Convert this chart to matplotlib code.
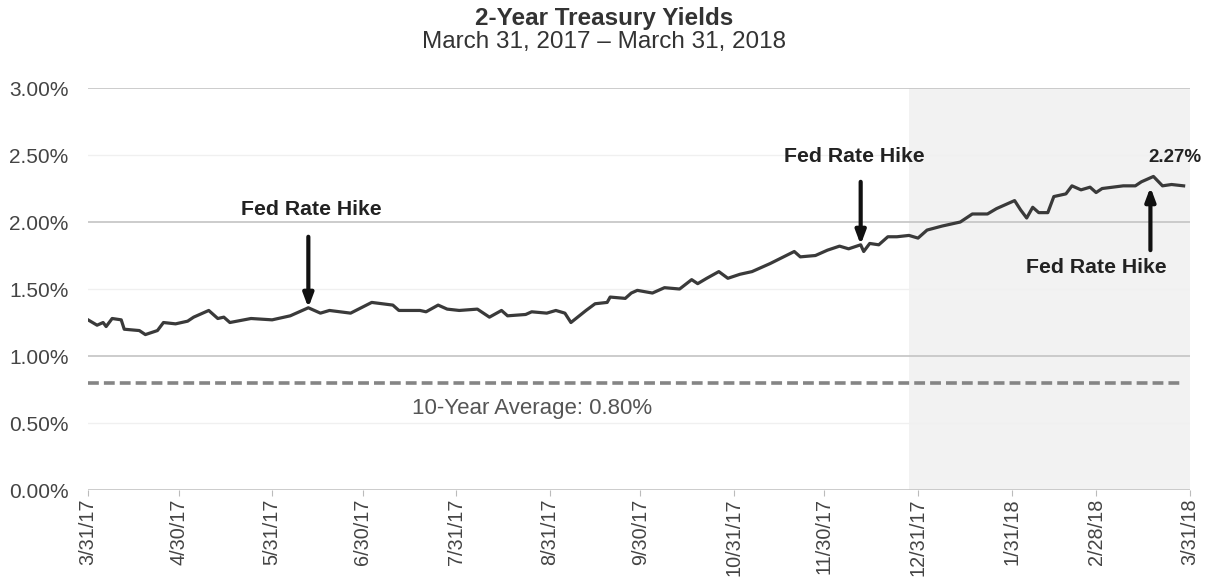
import matplotlib
matplotlib.use("Agg")
import matplotlib.pyplot as plt
import numpy as np
import pandas as pd

plt.rcParams['font.family'] = ['Liberation Sans', 'DejaVu Sans']

# 2-year Treasury yield, %
dates = [
    "2017-03-31", "2017-04-03", "2017-04-05", "2017-04-06", "2017-04-08", "2017-04-11",
    "2017-04-12", "2017-04-17", "2017-04-19", "2017-04-23", "2017-04-25", "2017-04-29",
    "2017-05-03", "2017-05-05", "2017-05-10", "2017-05-13", "2017-05-15", "2017-05-17",
    "2017-05-24", "2017-05-31", "2017-06-06", "2017-06-12", "2017-06-16", "2017-06-19",
    "2017-06-26", "2017-07-03", "2017-07-10", "2017-07-12", "2017-07-19", "2017-07-21",
    "2017-07-25", "2017-07-28", "2017-08-01", "2017-08-07", "2017-08-11", "2017-08-15",
    "2017-08-17", "2017-08-23", "2017-08-25", "2017-08-30", "2017-09-02", "2017-09-05",
    "2017-09-07", "2017-09-12", "2017-09-15", "2017-09-19", "2017-09-20", "2017-09-25",
    "2017-09-27", "2017-09-29", "2017-10-04", "2017-10-08", "2017-10-13", "2017-10-17",
    "2017-10-19", "2017-10-22", "2017-10-26", "2017-10-29", "2017-11-02", "2017-11-06",
    "2017-11-12", "2017-11-20", "2017-11-22", "2017-11-27", "2017-12-01", "2017-12-05",
    "2017-12-08", "2017-12-12", "2017-12-13", "2017-12-15", "2017-12-18", "2017-12-21",
    "2017-12-24", "2017-12-28", "2017-12-31", "2018-01-03", "2018-01-08", "2018-01-14",
    "2018-01-18", "2018-01-23", "2018-01-26", "2018-01-29", "2018-02-01", "2018-02-03",
    "2018-02-05", "2018-02-07", "2018-02-09", "2018-02-12", "2018-02-14", "2018-02-18",
    "2018-02-20", "2018-02-23", "2018-02-26", "2018-02-28", "2018-03-02", "2018-03-09",
    "2018-03-13", "2018-03-15", "2018-03-19", "2018-03-22", "2018-03-25", "2018-03-29",
]
yields = [
    1.27, 1.23, 1.25, 1.22, 1.28, 1.27,
    1.20, 1.19, 1.16, 1.19, 1.25, 1.24,
    1.26, 1.29, 1.34, 1.28, 1.29, 1.25,
    1.28, 1.27, 1.30, 1.36, 1.32, 1.34,
    1.32, 1.40, 1.38, 1.34, 1.34, 1.33,
    1.38, 1.35, 1.34, 1.35, 1.29, 1.34,
    1.30, 1.31, 1.33, 1.32, 1.34, 1.32,
    1.25, 1.34, 1.39, 1.40, 1.44, 1.43,
    1.47, 1.49, 1.47, 1.51, 1.50, 1.57,
    1.54, 1.58, 1.63, 1.58, 1.61, 1.63,
    1.69, 1.78, 1.74, 1.75, 1.79, 1.82,
    1.80, 1.83, 1.78, 1.84, 1.83, 1.89,
    1.89, 1.90, 1.88, 1.94, 1.97, 2.00,
    2.06, 2.06, 2.10, 2.13, 2.16, 2.09,
    2.03, 2.11, 2.07, 2.07, 2.19, 2.21,
    2.27, 2.24, 2.26, 2.22, 2.25, 2.27,
    2.27, 2.30, 2.34, 2.27, 2.28, 2.27,
]

ten_year_avg = 0.80
last_yield = 2.27

tick_dates = ["2017-03-31", "2017-04-30", "2017-05-31", "2017-06-30", "2017-07-31",
              "2017-08-31", "2017-09-30", "2017-10-31", "2017-11-30", "2017-12-31",
              "2018-01-31", "2018-02-28", "2018-03-31"]
tick_labels = ["3/31/17", "4/30/17", "5/31/17", "6/30/17", "7/31/17", "8/31/17",
               "9/30/17", "10/31/17", "11/30/17", "12/31/17", "1/31/18", "2/28/18",
               "3/31/18"]

# Fed rate hike markers: (date, yield at arrow tip)
hike_dates = ["2017-06-12", "2017-12-12", "2018-03-18"]
hike_yields = [1.36, 1.83, 2.26]

shade_start = "2017-12-28"
shade_end = "2018-03-31"

dt = pd.to_datetime(dates)
tk = pd.to_datetime(tick_dates)
hk = pd.to_datetime(hike_dates)

fig = plt.figure(figsize=(12.09, 5.81), dpi=100)
ax = fig.add_axes([0.0728, 0.1566, 0.9112, 0.6919])

ax.axvspan(pd.Timestamp(shade_start), pd.Timestamp(shade_end), color="#f2f2f2", zorder=0, lw=0)

for v in [0.5, 1.5, 2.5]:
    ax.axhline(v, color="#f0f0f0", lw=1.0, zorder=1)
for v in [0.0, 1.0, 2.0, 3.0]:
    ax.axhline(v, color="#c4c4c4", lw=1.2, zorder=1)

ax.plot(dt, yields, color="#3a3a3a", lw=2.3, zorder=3, solid_joinstyle="round")
ax.plot([dt[0], dt[-1]], [ten_year_avg, ten_year_avg], color="#858585", lw=2.6,
        dashes=(3.0, 1.4), zorder=2)

ax.text(pd.Timestamp("2017-08-25"), 0.61, f"10-Year Average: {ten_year_avg:.2f}%",
        ha="center", va="center", fontsize=16, color="#555555")

ax.set_xlim(pd.Timestamp("2017-03-31"), pd.Timestamp("2018-03-31"))
ax.set_ylim(0, 3.0)
ax.set_yticks(np.arange(0, 3.01, 0.5))
ax.set_yticklabels([f"{v:.2f}%" for v in np.arange(0, 3.01, 0.5)], fontsize=15, color="#444444")
ax.set_xticks(tk)
ax.set_xticklabels(tick_labels, rotation=90, fontsize=14.3, color="#444444")
ax.tick_params(axis="y", length=0, pad=14)
ax.tick_params(axis="x", length=4, color="#bbbbbb", pad=2)
for s in ax.spines.values():
    s.set_visible(False)

# Fed rate hike annotations
arrow_kw = dict(arrowstyle="-|>,head_length=0.8,head_width=0.3", color="#111111", lw=3.0,
                shrinkA=0, shrinkB=0)
hike_font = dict(ha="center", va="center", fontsize=15.3, fontweight="bold", color="#222222")
ax.annotate("", xy=(hk[0], hike_yields[0]), xytext=(hk[0], 1.89), arrowprops=arrow_kw)
ax.text(hk[0] + pd.Timedelta(days=1), 2.09, "Fed Rate Hike", **hike_font)
ax.annotate("", xy=(hk[1], hike_yields[1]), xytext=(hk[1], 2.30), arrowprops=arrow_kw)
ax.text(hk[1] - pd.Timedelta(days=2), 2.49, "Fed Rate Hike", **hike_font)
ax.annotate("", xy=(hk[2], hike_yields[2]), xytext=(hk[2], 1.79), arrowprops=arrow_kw)
ax.text(pd.Timestamp("2018-02-28"), 1.66, "Fed Rate Hike", **hike_font)

ax.text(pd.Timestamp("2018-03-26"), 2.48, f"{last_yield:.2f}%", ha="center", va="center",
        fontsize=13.5, fontweight="bold", color="#222222")

fig.text(0.5, 0.968, "2-Year Treasury Yields", ha="center", va="center",
         fontsize=17.5, fontweight="bold", color="#333333")
fig.text(0.5, 0.927, "March 31, 2017 \u2013 March 31, 2018", ha="center", va="center",
         fontsize=17.5, color="#333333")

fig.savefig("out.png", dpi=100)
